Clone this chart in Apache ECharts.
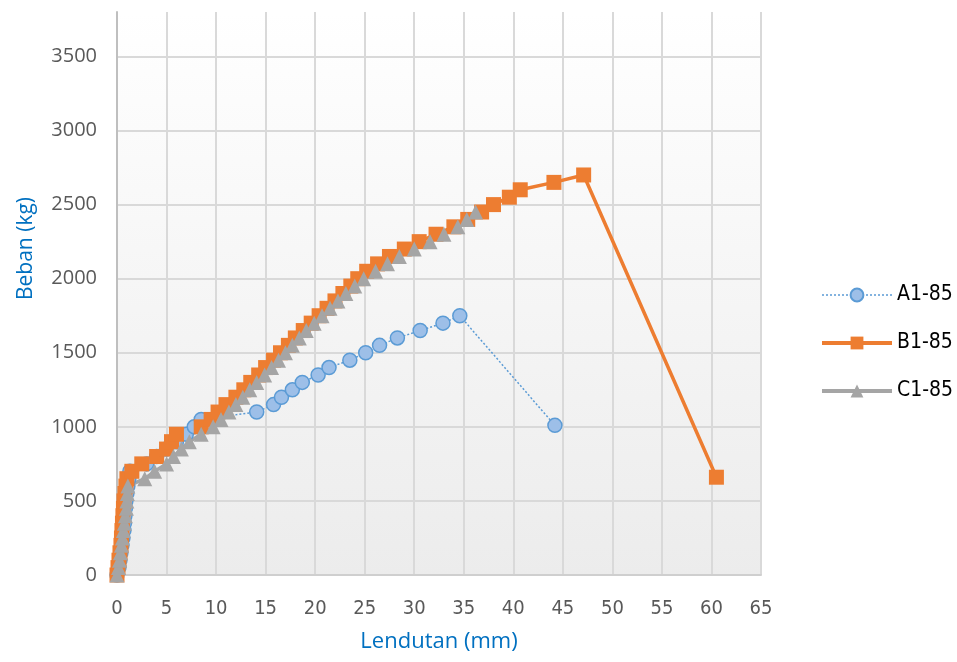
<!DOCTYPE html>
<html>
<head>
<meta charset="utf-8">
<script src="https://cdn.jsdelivr.net/npm/echarts@6/dist/echarts.min.js"></script>
<style>html,body{margin:0;padding:0;background:#fff}#c{width:957px;height:662px}</style>
</head>
<body>
<div id="c"></div>
<script>
// Lendutan (mm) values
var a1X = [0,0.2,0.3,0.4,0.5,0.6,0.7,0.75,0.8,0.85,0.9,1.0,1.1,1.2,1.3,3.0,4.0,5.0,6.0,7.0,7.8,8.5,14.1,15.8,16.6,17.7,18.7,20.3,21.4,23.5,25.1,26.5,28.3,30.6,32.9,34.6,44.2];
var a1Y = [0,50,100,150,200,250,300,350,400,450,500,550,600,650,700,750,800,850,900,950,1000,1050,1100,1150,1200,1250,1300,1350,1400,1450,1500,1550,1600,1650,1700,1750,1010];

var b1X = [0,0.1,0.2,0.3,0.4,0.45,0.5,0.55,0.6,0.65,0.7,0.8,0.9,1.0,1.5,2.5,4.0,5.0,5.5,6.0,8.5,9.5,10.2,11.0,12.0,12.8,13.5,14.3,15.0,15.8,16.5,17.3,18.0,18.8,19.6,20.4,21.2,22.0,22.8,23.6,24.3,25.2,26.3,27.5,29.0,30.5,32.2,34.0,35.4,36.8,38.0,39.6,40.7,44.1,47.1,60.5];
var b1Y = [0,50,100,150,200,250,300,350,400,450,500,550,600,650,700,750,800,850,900,950,1000,1050,1100,1150,1200,1250,1300,1350,1400,1450,1500,1550,1600,1650,1700,1750,1800,1850,1900,1950,2000,2050,2100,2150,2200,2250,2300,2350,2400,2450,2500,2550,2600,2650,2700,660];

var c1X = [0,0.15,0.25,0.35,0.45,0.55,0.65,0.75,0.85,0.95,1.0,1.05,1.1,2.8,3.8,5.0,5.7,6.5,7.3,8.5,9.7,10.5,11.3,12.0,12.7,13.4,14.1,14.9,15.6,16.3,17.0,17.7,18.4,19.1,19.9,20.7,21.5,22.3,23.1,24.0,24.9,26.1,27.3,28.5,30.0,31.6,33.0,34.4,35.3,36.2];
var c1Y = [0,50,100,150,200,250,300,350,400,450,500,550,600,650,700,750,800,850,900,950,1000,1050,1100,1150,1200,1250,1300,1350,1400,1450,1500,1550,1600,1650,1700,1750,1800,1850,1900,1950,2000,2050,2100,2150,2200,2250,2300,2350,2400,2450];

var seriesNames = ['A1-85','B1-85','C1-85'];
var xTitle = 'Lendutan (mm)';
var yTitle = 'Beban (kg)';

function pairs(xs, ys){ return xs.map(function(x,i){ return [x, ys[i]]; }); }

var chart = echarts.init(document.getElementById('c'));
var narrow = '"DejaVu Sans Condensed", "DejaVu Sans", sans-serif';
var wide = '"Open Sans", sans-serif';
chart.setOption({
  animation: false,
  backgroundColor: '#ffffff',
  grid: {
    left: 117, right: 196, top: 12, bottom: 87,
    show: true, borderWidth: 0,
    backgroundColor: new echarts.graphic.LinearGradient(0,0,0,1,[{offset:0,color:'#ffffff'},{offset:1,color:'#ececec'}])
  },
  legend: {
    orient: 'vertical', left: 815, top: 278,
    itemWidth: 70, itemHeight: 16, itemGap: 24,
    textStyle: { fontFamily: narrow, fontSize: 21, color: '#000000', lineHeight: 24 },
    data: [
      { name: seriesNames[0], lineStyle: { width: 1.5 } },
      { name: seriesNames[1], lineStyle: { width: 4 } },
      { name: seriesNames[2], lineStyle: { width: 4 } }
    ]
  },
  xAxis: {
    type: 'value', min: 0, max: 65, interval: 5,
    name: xTitle, nameLocation: 'middle', nameGap: 56,
    nameTextStyle: { fontFamily: wide, fontSize: 22, color: '#0070C0' },
    axisLine: { show: true, lineStyle: { color: '#cfcfcf', width: 2 } },
    axisTick: { show: false },
    axisLabel: { margin: 24, fontFamily: narrow, fontSize: 20, color: '#595959' },
    splitLine: { show: true, lineStyle: { color: '#d9d9d9', width: 2 } }
  },
  yAxis: {
    type: 'value', min: 0, max: 3800, interval: 500,
    name: yTitle, nameLocation: 'middle', nameGap: 80,
    nameTextStyle: { fontFamily: wide, fontSize: 21, color: '#0070C0', padding: [0,0,0,90] },
    axisLine: { show: true, lineStyle: { color: '#bfbfbf', width: 2 } },
    axisTick: { show: false },
    axisLabel: { margin: 20, showMaxLabel: false, fontFamily: wide, fontSize: 20, color: '#595959',
      formatter: function (v) { return String(v); } },
    splitLine: { show: true, showMaxLine: false, lineStyle: { color: '#d9d9d9', width: 2 } }
  },
  series: [
    {
      name: seriesNames[0], type: 'line', data: pairs(a1X, a1Y),
      symbol: 'circle', symbolSize: 14,
      lineStyle: { color: '#5B9BD5', width: 1.5, type: [2, 2] },
      itemStyle: { color: '#9DBFE8', borderColor: '#5B9BD5', borderWidth: 1.5 }
    },
    {
      name: seriesNames[1], type: 'line', data: pairs(b1X, b1Y),
      smooth: false,
      symbol: 'rect', symbolSize: 15,
      lineStyle: { color: '#ED7D31', width: 3.5 },
      itemStyle: { color: '#ED7D31', borderWidth: 0 }
    },
    {
      name: seriesNames[2], type: 'line', data: pairs(c1X, c1Y),
      smooth: false,
      symbol: 'triangle', symbolSize: 15,
      lineStyle: { color: '#A5A5A5', width: 3.5 },
      itemStyle: { color: '#A5A5A5', borderWidth: 0 }
    }
  ]
});
</script>
</body>
</html>
